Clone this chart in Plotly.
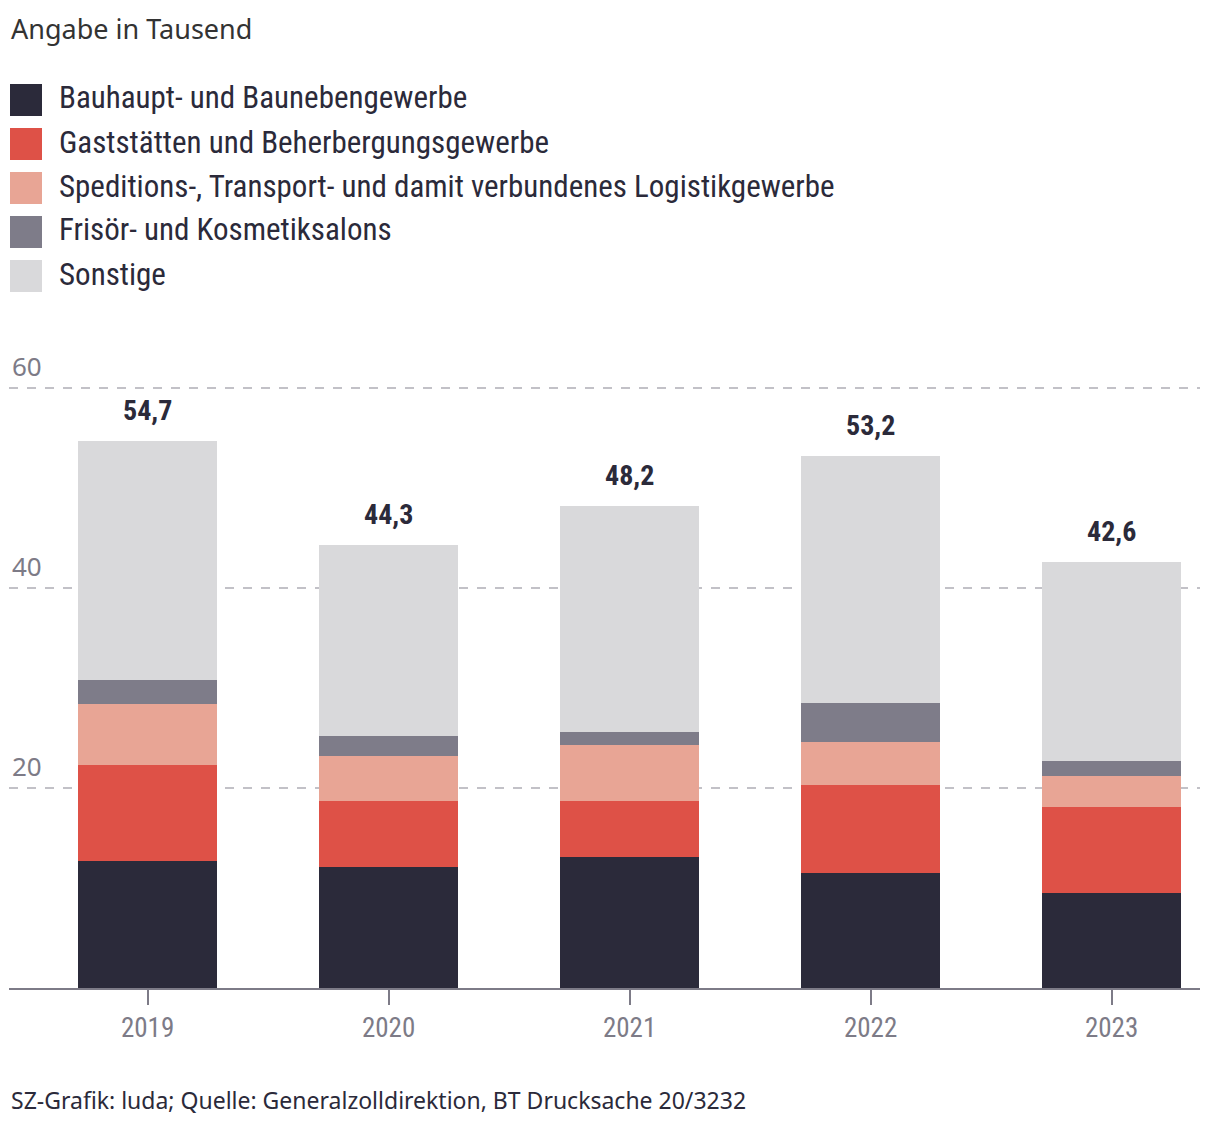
import plotly.graph_objects as go

years = ["2019", "2020", "2021", "2022", "2023"]
series_names = [
    "Bauhaupt- und Baunebengewerbe",
    "Gaststätten und Beherbergungsgewerbe",
    "Speditions-, Transport- und damit verbundenes Logistikgewerbe",
    "Frisör- und Kosmetiksalons",
    "Sonstige",
]
bau = [12.7, 12.1, 13.1, 11.5, 9.5]
gast = [9.6, 6.6, 5.6, 8.8, 8.6]
sped = [6.1, 4.5, 5.6, 4.3, 3.1]
fris = [2.4, 2.0, 1.3, 3.9, 1.5]
totals = [54.7, 44.3, 48.2, 53.2, 42.6]
total_labels = ["54,7", "44,3", "48,2", "53,2", "42,6"]
sonst = [round(t - a - b - c - d, 1) for t, a, b, c, d in zip(totals, bau, gast, sped, fris)]
y_ticks = [20, 40, 60]

colors = ["#2b2a3a", "#de5147", "#e8a595", "#7e7c89", "#d9d9db"]
values = [bau, gast, sped, fris, sonst]

COND = "Roboto Condensed, DejaVu Sans Condensed, Liberation Sans Narrow, Noto Sans, sans-serif"
REG = "Source Sans Pro, Noto Sans, Lato, sans-serif"

L, R, T, B = 9, 1200, 368, 988
PW, PH = R - L, B - T


def px(xp):
    return (xp - L) / PW


def py(yp):
    return (B - yp) / PH


x = list(range(len(years)))
fig = go.Figure()
for name, vals, col in zip(series_names, values, colors):
    fig.add_trace(go.Bar(x=x, y=vals, name=name, marker=dict(color=col, line=dict(width=0)),
                         width=0.577, showlegend=False, hoverinfo="y+name"))

for i, (t, lab) in enumerate(zip(totals, total_labels)):
    fig.add_annotation(x=i, y=t, text=f"<b>{lab}</b>", showarrow=False, yanchor="bottom",
                       yshift=12, font=dict(family=COND, size=28, color="#2b2a3a"))

for v in y_ticks:
    fig.add_annotation(xref="paper", yref="y", x=px(10), y=v, text=str(v), showarrow=False,
                       xanchor="left", yanchor="bottom", yshift=2,
                       font=dict(family=REG, size=26, color="#7d7b87"))

# legend
for k, (name, col) in enumerate(zip(series_names, colors)):
    yc = 100 + 44 * k
    fig.add_shape(type="rect", xref="paper", yref="paper",
                  x0=px(10), x1=px(42), y0=py(yc + 16), y1=py(yc - 16),
                  fillcolor=col, line=dict(width=0))
    fig.add_annotation(xref="paper", yref="paper", x=px(57), y=py(yc - 2),
                       text=name, showarrow=False, xanchor="left", yanchor="middle",
                       font=dict(family=COND, size=31, color="#2b2a3a"))

fig.add_annotation(xref="paper", yref="paper", x=px(9), y=py(28),
                   text="Angabe in Tausend", showarrow=False, xanchor="left", yanchor="middle",
                   font=dict(family=REG, size=27, color="#333333"))
fig.add_annotation(xref="paper", yref="paper", x=px(9), y=py(1100),
                   text="SZ-Grafik: luda; Quelle: Generalzolldirektion, BT Drucksache 20/3232",
                   showarrow=False, xanchor="left", yanchor="middle",
                   font=dict(family=REG, size=23, color="#2b2a3a"))

fig.update_layout(
    width=1220, height=1128,
    margin=dict(l=L, r=1220 - R, t=T, b=1128 - B),
    barmode="stack",
    plot_bgcolor="white", paper_bgcolor="white",
    xaxis=dict(range=[-0.575, 4.367], tickvals=x, ticktext=years, showgrid=False,
               ticks="outside", ticklen=15, tickwidth=2, tickcolor="#7d7b87",
               showline=True, linecolor="#7d7b87", linewidth=2,
               tickfont=dict(family=COND, size=27, color="#7d7b87"), zeroline=False),
    yaxis=dict(range=[0, 62], tickvals=y_ticks, showticklabels=False, showgrid=True,
               gridcolor="#c2c1c7", griddash="dash", gridwidth=2, zeroline=False,
               showline=False),
    bargap=0,
)
fig.write_html("out.html")
